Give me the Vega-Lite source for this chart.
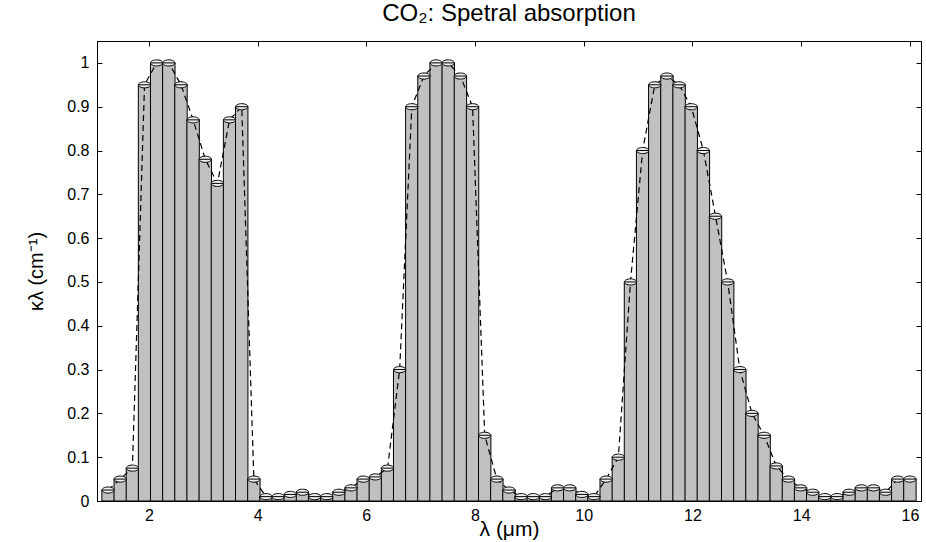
{
  "$schema": "https://vega.github.io/schema/vega-lite/v6.json",
  "width": 824,
  "height": 460,
  "autosize": {"type": "none"},
  "padding": {"left": 97, "top": 41, "right": 5, "bottom": 41},
  "background": "white",
  "config": {
    "font": "Liberation Sans",
    "view": {"stroke": "black", "strokeWidth": 1},
    "axis": {
      "grid": false,
      "domainColor": "black",
      "tickColor": "black",
      "labelColor": "black",
      "titleColor": "black",
      "labelFont": "Liberation Sans",
      "titleFont": "Liberation Sans",
      "labelFontSize": 16,
      "titleFontSize": 21,
      "titleFontWeight": "normal"
    }
  },
  "title": {
    "text": "CO₂: Spetral absorption",
    "font": "Liberation Sans",
    "fontSize": 24,
    "fontWeight": "normal",
    "color": "black",
    "anchor": "middle",
    "offset": 15
  },
  "data": {
    "values": [
      {"wl": 1.25, "k": 0.025},
      {"wl": 1.4735, "k": 0.05},
      {"wl": 1.697, "k": 0.075},
      {"wl": 1.9205, "k": 0.95},
      {"wl": 2.1439, "k": 1.0},
      {"wl": 2.3674, "k": 1.0},
      {"wl": 2.5909, "k": 0.95},
      {"wl": 2.8144, "k": 0.87},
      {"wl": 3.0379, "k": 0.78},
      {"wl": 3.2614, "k": 0.725},
      {"wl": 3.4848, "k": 0.87},
      {"wl": 3.7083, "k": 0.9},
      {"wl": 3.9318, "k": 0.05},
      {"wl": 4.1553, "k": 0.01},
      {"wl": 4.3788, "k": 0.01},
      {"wl": 4.6023, "k": 0.015},
      {"wl": 4.8258, "k": 0.02},
      {"wl": 5.0492, "k": 0.01},
      {"wl": 5.2727, "k": 0.01},
      {"wl": 5.4962, "k": 0.02},
      {"wl": 5.7197, "k": 0.03},
      {"wl": 5.9432, "k": 0.05},
      {"wl": 6.1667, "k": 0.055},
      {"wl": 6.3902, "k": 0.075},
      {"wl": 6.6136, "k": 0.3},
      {"wl": 6.8371, "k": 0.9},
      {"wl": 7.0606, "k": 0.97},
      {"wl": 7.2841, "k": 1.0},
      {"wl": 7.5076, "k": 1.0},
      {"wl": 7.7311, "k": 0.97},
      {"wl": 7.9545, "k": 0.9},
      {"wl": 8.178, "k": 0.15},
      {"wl": 8.4015, "k": 0.05},
      {"wl": 8.625, "k": 0.025},
      {"wl": 8.8485, "k": 0.01},
      {"wl": 9.072, "k": 0.01},
      {"wl": 9.2955, "k": 0.01},
      {"wl": 9.5189, "k": 0.03},
      {"wl": 9.7424, "k": 0.03},
      {"wl": 9.9659, "k": 0.015},
      {"wl": 10.1894, "k": 0.01},
      {"wl": 10.4129, "k": 0.05},
      {"wl": 10.6364, "k": 0.1},
      {"wl": 10.8598, "k": 0.5},
      {"wl": 11.0833, "k": 0.8},
      {"wl": 11.3068, "k": 0.95},
      {"wl": 11.5303, "k": 0.97},
      {"wl": 11.7538, "k": 0.95},
      {"wl": 11.9773, "k": 0.9},
      {"wl": 12.2008, "k": 0.8},
      {"wl": 12.4242, "k": 0.65},
      {"wl": 12.6477, "k": 0.5},
      {"wl": 12.8712, "k": 0.3},
      {"wl": 13.0947, "k": 0.2},
      {"wl": 13.3182, "k": 0.15},
      {"wl": 13.5417, "k": 0.08},
      {"wl": 13.7652, "k": 0.05},
      {"wl": 13.9886, "k": 0.03},
      {"wl": 14.2121, "k": 0.02},
      {"wl": 14.4356, "k": 0.01},
      {"wl": 14.6591, "k": 0.01},
      {"wl": 14.8826, "k": 0.02},
      {"wl": 15.1061, "k": 0.03},
      {"wl": 15.3295, "k": 0.03},
      {"wl": 15.553, "k": 0.02},
      {"wl": 15.7765, "k": 0.05},
      {"wl": 16.0, "k": 0.05}
    ]
  },
  "layer": [
    {
      "mark": {"type": "bar", "orient": "vertical", "size": 12.4, "fill": "#c0c0c0", "stroke": "black", "strokeWidth": 1},
      "encoding": {
        "x": {
          "field": "wl", "type": "quantitative",
          "scale": {"domain": [1.138, 16.112], "nice": false, "zero": false},
          "axis": {"orient": "bottom", "values": [2, 4, 6, 8, 10, 12, 14, 16], "tickSize": -5, "labelPadding": 11, "title": "λ  (μm)", "titlePadding": -5}
        },
        "y": {
          "field": "k", "type": "quantitative",
          "scale": {"domain": [0, 1.05], "nice": false},
          "axis": {"orient": "left", "values": [0, 0.1, 0.2, 0.3, 0.4, 0.5, 0.6, 0.7, 0.8, 0.9, 1], "format": "~g", "tickSize": -5, "labelPadding": 13, "title": "κλ (cm⁻¹)", "titleFontSize": 20, "titlePadding": 20}
        }
      }
    },
    {
      "mark": {"type": "line", "stroke": "black", "strokeDash": [6, 4], "strokeWidth": 1.2},
      "encoding": {
        "x": {
          "field": "wl", "type": "quantitative",
          "scale": {"domain": [1.138, 16.112], "nice": false, "zero": false},
          "axis": {"orient": "top", "values": [2, 4, 6, 8, 10, 12, 14, 16], "tickSize": -5, "labels": false, "title": null}
        },
        "y": {
          "field": "k", "type": "quantitative",
          "scale": {"domain": [0, 1.05], "nice": false},
          "axis": {"orient": "right", "values": [0, 0.1, 0.2, 0.3, 0.4, 0.5, 0.6, 0.7, 0.8, 0.9, 1], "tickSize": -5, "labels": false, "title": null}
        }
      }
    },
    {
      "mark": {"type": "point", "shape": "M-1,0A1,0.5 0 1,1 1,0A1,0.5 0 1,1 -1,0ZM-1,0L1,0", "size": 150, "filled": true, "fill": "#eeeeee", "stroke": "black", "strokeWidth": 1, "opacity": 1},
      "encoding": {
        "x": {"field": "wl", "type": "quantitative", "axis": null},
        "y": {"field": "k", "type": "quantitative", "axis": null}
      }
    }
  ],
  "resolve": {"axis": {"x": "independent", "y": "independent"}}
}
